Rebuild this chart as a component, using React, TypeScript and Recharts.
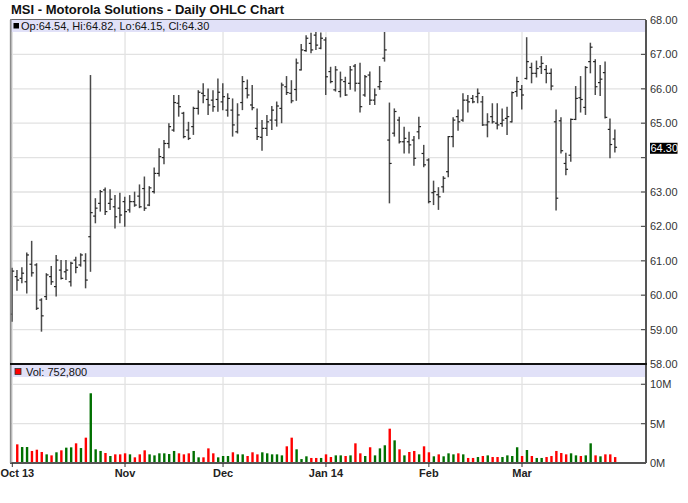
import React from 'react'
import {
  ComposedChart,
  Bar,
  XAxis,
  YAxis,
  CartesianGrid,
  ReferenceLine,
} from 'recharts'

const FONT = "'Liberation Sans', Arial, Helvetica, sans-serif"

// trading-day index of the first session of each month (day 0 = Oct 1 2013)
const monthTicks = [0, 23, 43, 64, 85, 104]
const monthLabels = ['Oct 13', 'Nov', 'Dec', 'Jan 14', 'Feb', 'Mar']

const priceTicks = [58, 59, 60, 61, 62, 63, 64, 65, 66, 67, 68]
const volTicks = [0, 5, 10]

const opens = [
  59.45, 60.54, 60.49, 60.39, 60.9, 60.88, 59.86, 59.96, 60.54, 60.25, 60.73, 60.68, 60.39, 61.02, 60.88, 61.0,
  61.7, 62.3, 62.67, 63.06, 62.67, 62.57, 62.53, 62.72, 62.48, 62.72, 62.88, 63.1, 62.62, 63.01, 63.54, 64.0,
  64.41, 64.8, 65.58, 65.29, 64.8, 64.9, 65.43, 65.87, 65.69, 65.67, 65.69, 65.62, 65.38, 65.38, 64.75, 65.6,
  66.01, 65.53, 64.85, 64.59, 64.85, 65.09, 65.09, 65.43, 66.06, 65.87, 65.98, 66.55, 67.11, 67.32, 67.56, 67.18,
  67.42, 66.5, 65.97, 65.92, 66.21, 66.16, 66.66, 66.16, 65.82, 66.4, 65.67, 66.06, 66.89, 64.51, 64.71, 65.09,
  64.46, 64.46, 64.51, 64.75, 64.12, 63.93, 62.98, 62.92, 63.15, 63.59, 64.61, 65.19, 65.09, 65.67, 65.72, 65.77,
  65.62, 64.95, 65.19, 65.0, 64.99, 65.14, 65.04, 65.92, 65.98, 66.3, 66.62, 66.45, 66.64, 66.56, 66.45, 65.04,
  65.07, 63.83, 64.07, 65.11, 65.74, 65.46, 66.79, 66.79, 66.18, 66.47, 64.82, 64.54,
]
const highs = [
  60.8, 60.73, 60.81, 61.24, 61.58, 60.93, 59.91, 60.64, 60.85, 61.17, 61.02, 61.02, 60.97, 61.12, 61.22, 61.22,
  66.4, 62.82, 63.06, 63.13, 63.08, 62.91, 62.98, 62.86, 62.91, 63.01, 63.22, 63.45, 63.17, 63.71, 64.27, 64.51,
  65.0, 65.82, 65.82, 65.33, 65.04, 65.48, 65.96, 66.16, 66.01, 65.96, 66.3, 66.16, 65.87, 65.72, 65.58, 66.37,
  66.27, 66.11, 65.43, 65.09, 65.24, 65.5, 65.63, 66.18, 66.37, 66.25, 66.88, 67.3, 67.56, 67.63, 67.66, 67.64,
  67.5, 66.64, 66.66, 66.5, 66.35, 66.66, 66.72, 66.76, 66.4, 66.5, 66.01, 66.66, 67.71, 65.6, 65.43, 65.19,
  64.9, 64.75, 64.63, 65.19, 64.37, 63.98, 63.33, 63.14, 63.46, 64.63, 65.17, 65.4, 65.87, 65.82, 65.82, 66.01,
  65.79, 65.29, 65.58, 65.58, 65.43, 65.48, 65.92, 66.35, 66.11, 67.5, 66.76, 66.82, 66.95, 66.69, 66.59, 65.4,
  65.17, 64.14, 65.14, 66.08, 66.37, 66.66, 67.34, 66.86, 66.69, 66.79, 65.14, 64.82,
]
const lows = [
  59.23, 60.13, 60.35, 60.05, 60.54, 59.57, 58.94, 59.86, 60.3, 59.96, 60.46, 60.44, 60.25, 60.64, 60.83, 60.2,
  60.68, 62.09, 62.43, 62.33, 62.48, 61.94, 62.09, 61.99, 62.4, 62.57, 62.53, 62.45, 62.59, 62.96, 63.45, 63.81,
  64.27, 64.75, 65.19, 64.56, 64.51, 64.66, 65.25, 65.58, 65.24, 65.33, 65.33, 65.38, 65.19, 64.61, 64.7, 65.38,
  65.72, 65.38, 64.51, 64.2, 64.63, 64.8, 64.9, 65.0, 65.82, 65.58, 65.65, 66.53, 67.08, 67.03, 67.13, 67.15,
  65.82, 66.16, 65.92, 65.75, 65.79, 65.97, 65.92, 65.31, 65.77, 65.53, 65.53, 65.97, 66.79, 62.67, 64.61, 64.41,
  64.12, 64.12, 63.76, 64.53, 63.72, 62.67, 62.62, 62.48, 62.98, 63.43, 64.3, 64.78, 65.04, 65.31, 65.58, 65.58,
  64.92, 64.59, 64.99, 64.82, 64.9, 64.66, 65.02, 65.77, 65.4, 66.27, 66.16, 66.33, 66.43, 66.16, 65.96, 62.46,
  64.12, 63.49, 63.88, 65.09, 65.31, 65.24, 66.45, 65.82, 65.79, 65.14, 63.98, 64.15,
]
const closes = [
  60.7, 60.44, 60.64, 61.17, 60.65, 59.62, 59.4, 60.59, 60.39, 61.02, 60.49, 60.73, 60.93, 60.81, 61.17, 60.44,
  62.4, 62.53, 63.01, 62.43, 62.79, 62.28, 62.33, 62.43, 62.72, 62.62, 62.57, 62.53, 63.12, 63.54, 64.03, 64.41,
  64.9, 65.6, 65.48, 64.61, 64.56, 65.43, 65.9, 65.8, 65.53, 65.48, 65.9, 65.77, 65.72, 64.95, 65.24, 66.21,
  65.82, 65.45, 64.61, 64.85, 65.04, 65.38, 65.5, 66.11, 65.89, 65.65, 66.75, 67.13, 67.47, 67.13, 67.27, 67.47,
  66.35, 66.21, 66.55, 66.26, 65.82, 66.55, 66.16, 65.48, 66.35, 65.67, 65.82, 66.21, 67.13, 63.83, 65.34, 64.46,
  64.56, 64.37, 63.98, 64.9, 63.79, 62.72, 63.01, 62.86, 63.4, 64.61, 65.09, 65.04, 65.67, 65.62, 65.62, 65.87,
  64.95, 65.04, 65.04, 64.95, 65.09, 65.19, 65.89, 66.21, 65.82, 66.79, 66.45, 66.59, 66.74, 66.45, 66.08, 62.82,
  64.2, 63.66, 65.11, 65.72, 65.69, 66.62, 67.21, 66.06, 66.28, 65.17, 64.38, 64.3,
]
// millions of shares
const volumes = [
  0, 2.37, 2.03, 2.03, 1.53, 1.69, 1.4, 1.1, 0.97, 1.36, 1.61, 1.95, 1.99, 2.5, 1.9, 3.22,
  8.86, 1.74, 1.53, 1.27, 0.89, 1.1, 1.1, 1.23, 1.1, 0.72, 1.1, 1.61, 1.1, 0.97, 1.23, 1.23,
  1.14, 1.53, 1.23, 1.1, 1.23, 1.53, 0.72, 0.72, 1.86, 1.23, 0.72, 0.89, 0.89, 1.36, 1.1, 1.1,
  0.89, 1.36, 1.1, 1.36, 1.23, 1.1, 1.1, 0.97, 2.12, 3.22, 1.74, 0.5, 0.85, 0.64, 0.64, 0.64,
  1.1, 0.76, 0.97, 0.97, 0.89, 0.97, 2.5, 1.23, 0.89, 2.0, 0.97, 1.86, 2.25, 4.36, 2.88, 1.74,
  0.97, 1.4, 1.53, 1.1, 2.12, 1.36, 0.85, 1.1, 0.85, 1.23, 1.1, 1.23, 1.1, 0.64, 0.64, 0.76,
  0.89, 0.97, 0.76, 0.76, 0.76, 0.97, 0.89, 2.0, 0.89, 1.65, 0.89, 0.64, 0.64, 0.76, 0.89, 1.53,
  1.27, 1.1, 1.23, 0.97, 0.89, 0.97, 2.5, 0.97, 0.85, 1.1, 1.1, 0.7528,
]

const data = opens.map((o, i) => ({
  i,
  open: o,
  high: highs[i],
  low: lows[i],
  close: closes[i],
  vol: volumes[i],
}))

const last = data.length - 1
const lastClose = closes[last]
const X_DOMAIN: [number, number] = [-0.47, 129.3]

const UP = '#007000'
const DOWN = '#ff0000'

function OhlcShape(props: any) {
  const { x, y, width, height, payload } = props
  if (x == null || y == null) return null
  const top = Math.min(y, y + height)
  const bot = Math.max(y, y + height)
  const cx = x + width / 2
  const span = payload.high - payload.low || 1
  const yOf = (v: number) => top + ((payload.high - v) / span) * (bot - top)
  const yo = yOf(payload.open)
  const yc = yOf(payload.close)
  return (
    <g>
      <line x1={cx} x2={cx} y1={top} y2={bot} stroke="#4a4a4a" strokeWidth={1.5} />
      <line x1={cx - 2.2} x2={cx} y1={yo} y2={yo} stroke="#222" strokeWidth={1.2} />
      <line x1={cx} x2={cx + 2.2} y1={yc} y2={yc} stroke="#222" strokeWidth={1.2} />
    </g>
  )
}

function VolShape(props: any) {
  const { x, y, width, height, payload } = props
  if (!height || height <= 0) return null
  const cx = x + width / 2
  const fill = payload.close >= payload.open ? UP : DOWN
  return <rect x={cx - 1.2} y={y} width={2.4} height={height} fill={fill} />
}

function AxisTick(props: any) {
  const { x, y, payload, fmt, skip } = props
  const showText = !(skip && skip(payload.value))
  return (
    <g>
      <line x1={x - 5} x2={x} y1={y} y2={y} stroke="#555" strokeWidth={1.2} />
      {showText && (
        <text x={x + 4} y={y} dy={4} fontSize={11} fontFamily={FONT} fill="#333" textAnchor="start">
          {fmt(payload.value)}
        </text>
      )}
    </g>
  )
}

const labelFor = (v: number) => monthLabels[monthTicks.indexOf(v)] ?? ''

// month label; a label that would run past the left edge is pinned to it
function MonthTick(props: any) {
  const { x, y, payload } = props
  const label = labelFor(payload.value)
  const halfWidth = label.length * 3.1
  const pinned = x - halfWidth < 0
  return (
    <text
      x={pinned ? 0.5 : x}
      y={y}
      dy="0.71em"
      textAnchor={pinned ? 'start' : 'middle'}
      fontSize={11}
      fontWeight="bold"
      fontFamily={FONT}
      fill="#222"
    >
      {label}
    </text>
  )
}

function LastLabel(props: any) {
  const { viewBox } = props
  if (!viewBox) return null
  const right = viewBox.x + viewBox.width
  const yy = viewBox.y
  return (
    <g>
      <rect x={right + 4} y={yy - 4.5} width={27.5} height={11} fill="#000" />
      <text x={right + 4.5} y={yy + 5} fontSize={11} fontFamily={FONT} fill="#fff">
        {lastClose.toFixed(2)}
      </text>
    </g>
  )
}

export default function App() {
  const ohlcText = `Op:${opens[last].toFixed(2)}, Hi:${highs[last].toFixed(2)}, Lo:${lows[last].toFixed(2)}, Cl:${closes[last].toFixed(2)}`
  const volText = `Vol: ${Math.round(volumes[last] * 1e6).toLocaleString('en-US')}`
  return (
    <div style={{ position: 'absolute', left: 0, top: 0, width: 688, height: 503, background: '#fff', overflow: 'hidden' }}>
      <div style={{ position: 'absolute', left: 0, top: 0 }}>
        <ComposedChart width={688} height={375} data={data} margin={{ top: 20, right: 0, bottom: 11, left: 10 }}>
          <CartesianGrid stroke="#e2e2e2" strokeWidth={1.3} />
          <XAxis type="number" dataKey="i" domain={X_DOMAIN} ticks={monthTicks} hide allowDataOverflow />
          <YAxis
            orientation="right"
            domain={[58, 68]}
            ticks={priceTicks}
            interval={0}
            width={42}
            tickSize={0}
            tickMargin={0}
            tickLine={false}
            axisLine={{ stroke: '#555', strokeWidth: 2 }}
            tick={<AxisTick fmt={(v: number) => v.toFixed(2)} skip={(v: number) => Math.abs(v - lastClose) < 0.45} />}
            allowDataOverflow
          />
          <ReferenceLine y={lastClose} stroke="none" label={<LastLabel />} />
          <Bar dataKey={(d: any) => [d.low, d.high]} barSize={5} shape={<OhlcShape />} isAnimationActive={false} />
        </ComposedChart>
      </div>
      <div style={{ position: 'absolute', left: 0, top: 364 }}>
        <ComposedChart width={688} height={139} data={data} margin={{ top: 0, right: 0, bottom: 15, left: 10 }}>
          <CartesianGrid stroke="#e2e2e2" strokeWidth={1.3} />
          <XAxis
            type="number"
            dataKey="i"
            domain={X_DOMAIN}
            ticks={monthTicks}
            interval={0}
            height={25}
            tickSize={4}
            tickMargin={2}
            tickLine={{ stroke: '#333' }}
            axisLine={{ stroke: '#555', strokeWidth: 2 }}
            tick={<MonthTick />}
            allowDataOverflow
          />
          <YAxis
            orientation="right"
            domain={[0, 12.58]}
            ticks={volTicks}
            interval={0}
            width={42}
            tickSize={0}
            tickMargin={0}
            tickLine={false}
            axisLine={{ stroke: '#555', strokeWidth: 2 }}
            tick={<AxisTick fmt={(v: number) => `${v}M`} />}
            allowDataOverflow
          />
          <Bar dataKey="vol" barSize={3} shape={<VolShape />} isAnimationActive={false} />
        </ComposedChart>
      </div>
      <svg width={688} height={503} style={{ position: 'absolute', left: 0, top: 0, pointerEvents: 'none' }}>
        <text x={11} y={13.5} fontSize={13} fontWeight="bold" fontFamily={FONT} fill="#111">
          MSI - Motorola Solutions - Daily OHLC Chart
        </text>
        <rect x={11} y={20} width={634} height={12} fill="#e1e1f8" />
        <rect x={13.5} y={23} width={5.5} height={5.5} fill="#000" />
        <text x={21} y={29.5} fontSize={11} fontFamily={FONT} fill="#111">{ohlcText}</text>
        <rect x={11} y={365} width={634} height={12} fill="#e1e1f8" />
        <rect x={15} y={368.5} width={6} height={6} fill={DOWN} stroke="#333" strokeWidth={0.8} />
        <text x={26} y={375.5} fontSize={11} fontFamily={FONT} fill="#111">{volText}</text>
        <line x1={10} x2={646} y1={19.5} y2={19.5} stroke="#666" strokeWidth={1} />
        <line x1={10.8} x2={10.8} y1={19} y2={463} stroke="#888" strokeWidth={1.5} />
        <line x1={10} x2={647} y1={364} y2={364} stroke="#111" strokeWidth={2} />
      </svg>
    </div>
  )
}
